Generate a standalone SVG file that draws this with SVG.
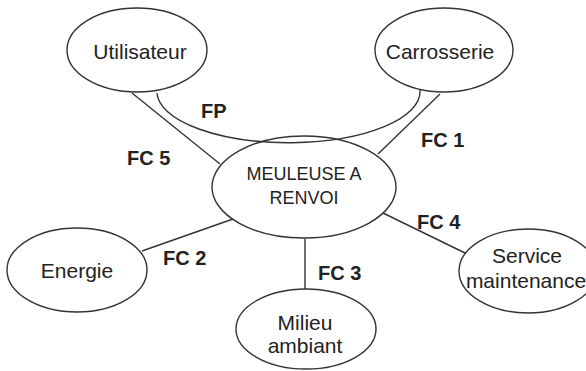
<svg xmlns="http://www.w3.org/2000/svg" width="586" height="371" viewBox="0 0 586 371">
<style>
.node ellipse{fill:none;stroke:#333;stroke-width:1.4}
.node text{font-family:"Liberation Sans",Arial,sans-serif;font-size:21px;fill:#222;text-anchor:middle}
.conn line,.conn path{fill:none;stroke:#333;stroke-width:1.4}
.lbl{font-family:"Liberation Sans",Arial,sans-serif;font-size:20px;font-weight:bold;fill:#222}
</style>
<rect width="586" height="371" fill="#fff"/>
<g id="connectors" class="conn">
<path d="M157,93 A131,51 0 0 0 420,90"/>
<line x1="132" y1="93" x2="220" y2="164"/>
<line x1="440" y1="94" x2="378" y2="154"/>
<line x1="142" y1="251" x2="233" y2="219"/>
<line x1="305" y1="239" x2="305" y2="289"/>
<line x1="383" y1="213" x2="465" y2="253"/>
<text class="lbl" x="201" y="118">FP</text>
<text class="lbl" x="127" y="165">FC 5</text>
<text class="lbl" x="421" y="147">FC 1</text>
<text class="lbl" x="163" y="265">FC 2</text>
<text class="lbl" x="318" y="280">FC 3</text>
<text class="lbl" x="417" y="229">FC 4</text>
</g>
<g id="meuleuse" class="node">
<ellipse cx="304" cy="187" rx="92" ry="51"/>
<text x="304" y="180" style="font-size:18px">MEULEUSE A</text>
<text x="304" y="204" style="font-size:18px">RENVOI</text>
</g>
<g id="utilisateur" class="node">
<ellipse cx="137" cy="50" rx="70" ry="42"/>
<text x="140" y="59">Utilisateur</text>
</g>
<g id="carrosserie" class="node">
<ellipse cx="444" cy="50" rx="69" ry="42"/>
<text x="440" y="59">Carrosserie</text>
</g>
<g id="energie" class="node">
<ellipse cx="77" cy="270" rx="70" ry="42"/>
<text x="77" y="278">Energie</text>
</g>
<g id="milieu" class="node">
<ellipse cx="306" cy="329" rx="70" ry="40"/>
<text x="305" y="330">Milieu</text>
<text x="305" y="353">ambiant</text>
</g>
<g id="service" class="node">
<ellipse cx="528" cy="271" rx="69" ry="42"/>
<text x="527" y="263">Service</text>
<text x="526" y="288">maintenance</text>
</g>
</svg>
